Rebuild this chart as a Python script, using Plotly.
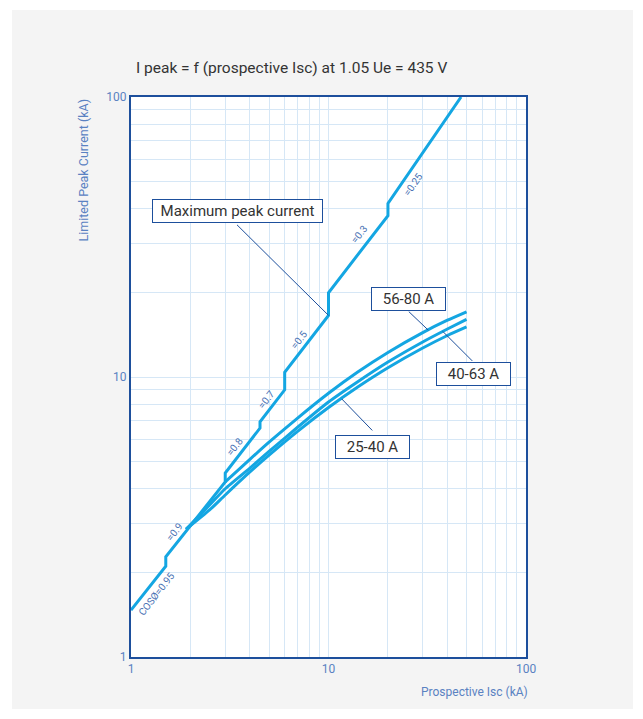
import math
import plotly.graph_objects as go

# ---- data ----
max_x = [1, 1.5, 1.5, 3, 3, 4.5, 4.5, 6, 6, 10, 10, 20, 20, 46.9]
max_y = [1.47, 2.11, 2.28, 4.22, 4.54, 6.57, 6.92, 9.0, 10.4, 16.6, 20.0, 37.7, 41.7, 100]

c5680_x = [3, 4, 5, 7, 10, 14, 20, 30, 40, 50]
c5680_y = [4.22, 5.08, 5.85, 7.15, 8.75, 10.4, 12.24, 14.41, 15.95, 17.1]

c4063_x = [1.9, 2.5, 3, 4, 5, 7, 10, 14, 20, 30, 40, 50]
c4063_y = [2.86, 3.49, 3.99, 4.73, 5.42, 6.63, 8.14, 9.6, 11.31, 13.34, 14.84, 16.07]

c2540_x = [1.9, 2.5, 3, 4, 5, 7, 10, 14, 20, 30, 40, 50]
c2540_y = [2.86, 3.35, 3.79, 4.58, 5.26, 6.41, 7.78, 9.19, 10.79, 12.69, 14.07, 15.1]

cos_labels = ["COSØ=0.95", "=0.9", "=0.8", "=0.7", "=0.5", "=0.3", "=0.25"]
cos_x = [1.354, 1.67, 3.36, 4.86, 7.11, 14.32, 26.9]
cos_y = [1.68, 2.80, 5.64, 8.28, 13.63, 32.2, 48.5]
cos_angle = [-52, -52, -52, -52, -52, -52, -55]

box_labels = ["Maximum peak current", "56-80 A", "40-63 A", "25-40 A"]
box_tip_x = [10, 32, 37.9, 11.67]
box_tip_y = [16.6, 14.7, 14.55, 8.35]

tick_vals = [1, 2, 3, 4, 5, 6, 7, 8, 9, 10, 20, 30, 40, 50, 60, 70, 80, 90, 100]
tick_text = ["1", "", "", "", "", "", "", "", "", "10", "", "", "", "", "", "", "", "", "100"]

title_text = "I peak = f (prospective Isc) at 1.05 Ue = 435 V"
xtitle = "Prospective Isc (kA)"
ytitle = "Limited Peak Current (kA)"

# ---- styles / layout positions ----
LINE = "#14a6e2"
DARK = "#1d4f9c"
GRID = "#d6e7f6"
TICK = "#5a82c2"
FONT = "Roboto"

# leader start offsets (pixels from tip) and box centres (paper) and widths
leader_ax = [-93, -21, 31, 32]
leader_ay = [-92, -20, 31, 33]
box_px = [0.2704, 0.7018, 0.8663, 0.6114]
box_py = [0.7964, 0.6393, 0.5045, 0.3755]
box_w = [163, 67, 67, 67]

fig = go.Figure()
for xs, ys in [(c2540_x, c2540_y), (c4063_x, c4063_y), (c5680_x, c5680_y)]:
    fig.add_trace(go.Scatter(x=xs, y=ys, mode="lines",
                             line=dict(color=LINE, width=3, shape="spline", smoothing=0.6),
                             hoverinfo="skip", showlegend=False))
fig.add_trace(go.Scatter(x=max_x, y=max_y, mode="lines",
                         line=dict(color=LINE, width=3), hoverinfo="skip", showlegend=False))

ann = []
for t, x, y, a in zip(cos_labels, cos_x, cos_y, cos_angle):
    ann.append(dict(x=math.log10(x), y=math.log10(y), xref="x", yref="y", text=t,
                    showarrow=False, textangle=a,
                    font=dict(family=FONT, size=10, color="#4a72b4")))

for tx, ty, ax, ay in zip(box_tip_x, box_tip_y, leader_ax, leader_ay):
    ann.append(dict(x=math.log10(tx), y=math.log10(ty), xref="x", yref="y", text="",
                    showarrow=True, arrowhead=0, arrowwidth=1, arrowcolor=DARK,
                    ax=ax, ay=ay, axref="pixel", ayref="pixel", standoff=0))

for t, px, py, w in zip(box_labels, box_px, box_py, box_w):
    ann.append(dict(x=px, y=py, xref="paper", yref="paper", text=t, showarrow=False,
                    xanchor="center", yanchor="middle",
                    bgcolor="white", bordercolor=DARK, borderwidth=1, borderpad=3,
                    width=w, height=16,
                    font=dict(family=FONT, size=15, color="#333333")))

ann.append(dict(xref="paper", yref="paper", x=0.0076, y=1.0518, xanchor="left",
                yanchor="middle", text=title_text, showarrow=False,
                font=dict(family=FONT, size=15.5, color="#333333")))
ann.append(dict(xref="paper", yref="paper", x=1.0101, y=-0.062, xanchor="right",
                yanchor="middle", text=xtitle, showarrow=False,
                font=dict(family=FONT, size=12, color=TICK)))
ann.append(dict(xref="paper", yref="paper", x=-0.1215, y=1.0, xanchor="center",
                yanchor="top", text=ytitle, showarrow=False, textangle=-90,
                font=dict(family=FONT, size=12.5, color=TICK)))

shapes = [
    dict(type="rect", xref="paper", yref="paper", x0=-0.3013, x1=1.2709,
         y0=-0.0929, y1=1.1554, fillcolor="#f4f4f4", line=dict(width=0), layer="below"),
    dict(type="rect", xref="paper", yref="paper", x0=0, x1=1, y0=0, y1=1,
         fillcolor="white", line=dict(width=0), layer="below"),
]

axis_common = dict(type="log", range=[0, 2], tickvals=tick_vals, ticktext=tick_text,
                   showgrid=True, gridcolor=GRID, gridwidth=1, zeroline=False,
                   showline=True, linecolor=DARK, linewidth=2, mirror=True, ticks="",
                   tickfont=dict(family=FONT, size=12, color=TICK))

fig.update_layout(
    width=627, height=703,
    margin=dict(l=123, r=109, t=89, b=54),
    paper_bgcolor="white", plot_bgcolor="white",
    xaxis=dict(**axis_common),
    yaxis=dict(**axis_common),
    annotations=ann, shapes=shapes,
    showlegend=False,
)

fig.write_html("out.html")
